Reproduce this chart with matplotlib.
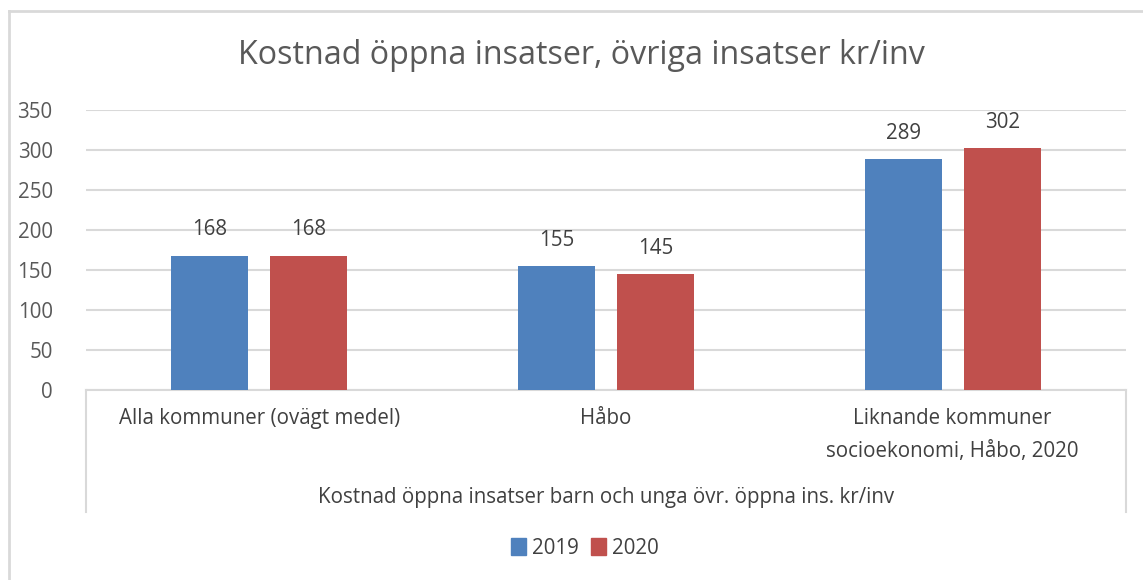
import matplotlib
matplotlib.use("Agg")
import matplotlib.pyplot as plt
from matplotlib.patches import Patch
from matplotlib.lines import Line2D
import numpy as np

categories = ["Alla kommuner (ovägt medel)", "Håbo", "Liknande kommuner\nsocioekonomi, Håbo, 2020"]
series_names = ["2019", "2020"]
values_2019 = [168, 155, 289]
values_2020 = [168, 145, 302]
yticks = [0, 50, 100, 150, 200, 250, 300, 350]
title = "Kostnad öppna insatser, övriga insatser kr/inv"
axis_title = "Kostnad öppna insatser barn och unga övr. öppna ins. kr/inv"

BLUE = "#4F81BD"
RED = "#C0504D"
TXT = "#595959"
LBL = "#404040"
GRID = "#D9D9D9"
FONT = "Open Sans"
FS = 14.8

W, H = 1143, 580
plt.rcParams['font.family'] = [FONT, 'DejaVu Sans']
fig = plt.figure(figsize=(W / 100, H / 100), dpi=100)

def fx(px):
    return px / W

def fy(py):
    return 1 - py / H

left, right, top, bottom = 86, 1126, 110, 390
ax = fig.add_axes([fx(left), fy(bottom), fx(right - left), (bottom - top) / H])

x = np.arange(len(categories))
bw = 0.222
off = 0.143
b1 = ax.bar(x - off, values_2019, bw, color=BLUE, zorder=3)
b2 = ax.bar(x + off, values_2020, bw, color=RED, zorder=3)
for bars in (b1, b2):
    ax.bar_label(bars, padding=11, fontsize=FS, color=LBL)

ax.set_xlim(-0.5, 2.5)
ax.set_ylim(0, 350)
ax.set_yticks(yticks)
ax.yaxis.grid(True, color=GRID, linewidth=1.5, zorder=0)
for s in ax.spines.values():
    s.set_visible(False)
ax.tick_params(axis='y', length=0, pad=24, labelsize=FS, labelcolor=TXT)
ax.set_xticks(x)
ax.set_xticklabels(categories, fontsize=FS, color=LBL, linespacing=1.75)
ax.tick_params(axis='x', length=0, pad=13)
ax.set_facecolor("none")

# category axis box
ax.add_line(Line2D([fx(left), fx(right)], [fy(bottom), fy(bottom)], transform=fig.transFigure, color=GRID, lw=1.5, clip_on=False))
ax.add_line(Line2D([fx(left), fx(left)], [fy(bottom), fy(512)], transform=fig.transFigure, color=GRID, lw=1.5, clip_on=False))
ax.add_line(Line2D([fx(right), fx(right)], [fy(bottom), fy(512)], transform=fig.transFigure, color=GRID, lw=1.5, clip_on=False))

fig.text(fx(606), fy(497), axis_title, ha='center', va='center', fontsize=FS, color=LBL)
fig.text(fx(581), fy(55), title, ha='center', va='center', fontsize=23.2, color=TXT)

# outer border
fig.add_artist(Line2D([fx(9), fx(9)], [fy(11), 0], transform=fig.transFigure, color=GRID, lw=2))
fig.add_artist(Line2D([fx(9), 1], [fy(11), fy(11)], transform=fig.transFigure, color=GRID, lw=2))

handles = [Patch(color=BLUE), Patch(color=RED)]
fig.legend(handles, series_names, loc='center', bbox_to_anchor=(fx(585), fy(548)), ncol=2,
           frameon=False, fontsize=FS, handlelength=0.7, handleheight=0.9, handletextpad=0.3,
           columnspacing=0.6, labelcolor=LBL)

fig.savefig("out.png", dpi=100)
